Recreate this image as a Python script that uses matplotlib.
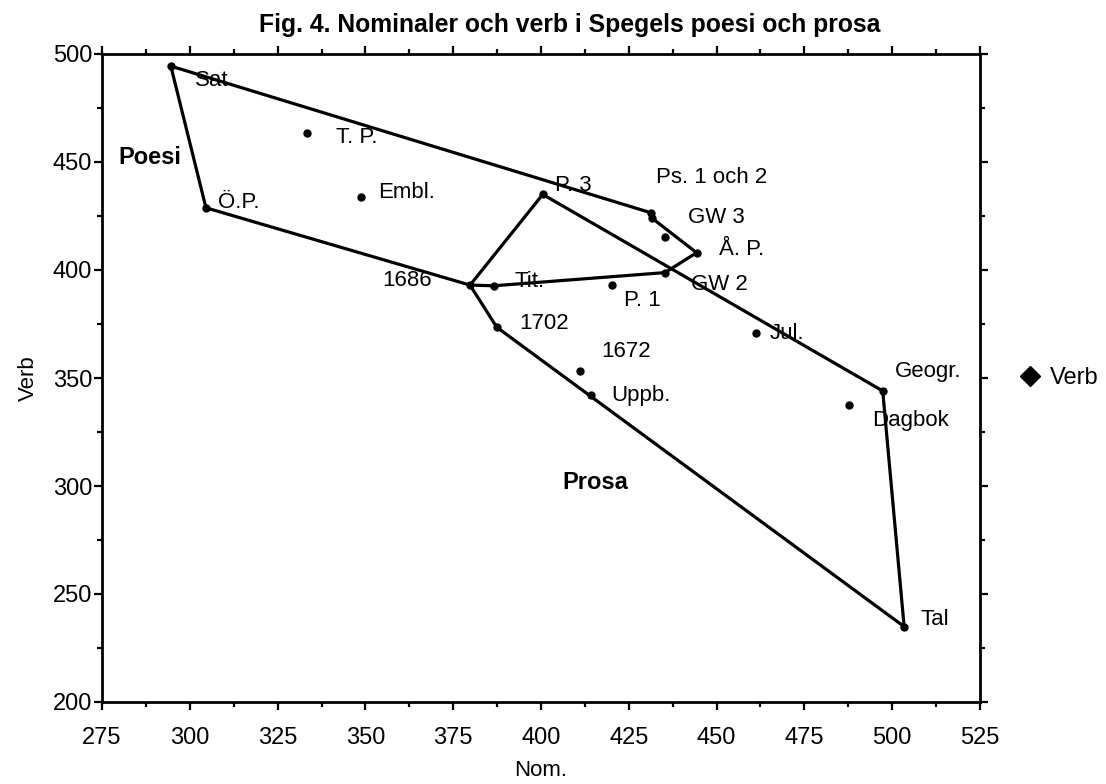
import matplotlib
matplotlib.use("Agg")
import matplotlib.pyplot as plt
from matplotlib.lines import Line2D
from matplotlib.ticker import MultipleLocator

plt.rcParams['font.family'] = ['Liberation Sans', 'DejaVu Sans']

# ---- data ----
names = ["Sat", "T. P.", "Embl.", "Ö.P.", "P. 3", "Ps. 1 och 2", "", "GW 3", "Å. P.",
         "GW 2", "Tit.", "1686", "P. 1", "1702", "1672", "Uppb.", "Jul.", "Geogr.",
         "Dagbok", "Tal"]
nom = [294.6, 333.5, 348.7, 304.6, 400.5, 431.3, 431.7, 435.3, 444.3,
       435.3, 386.6, 379.8, 420.1, 387.4, 411.1, 414.1, 461.1, 497.3,
       487.7, 503.4]
verb = [494.4, 463.3, 434.0, 428.8, 435.0, 426.5, 423.9, 415.1, 408.0,
        398.8, 392.7, 393.0, 393.0, 373.5, 353.4, 342.1, 370.7, 344.0,
        337.3, 234.9]
poesi_hull = ["Sat", "Ps. 1 och 2", "", "Å. P.", "GW 2", "Tit.", "1686", "Ö.P.", "Sat"]
prosa_hull = ["P. 3", "Geogr.", "Tal", "1702", "1686", "P. 3"]
x_ticks = [275, 300, 325, 350, 375, 400, 425, 450, 475, 500, 525]
y_ticks = [200, 250, 300, 350, 400, 450, 500]

# label offsets in pixels (style)
offsets = {"Sat": (24, -14, 'left'), "T. P.": (29, -4, 'left'), "Embl.": (17, 4, 'left'),
           "Ö.P.": (12, 5, 'left'), "P. 3": (12, 9, 'left'), "Ps. 1 och 2": (5, 35, 'left'),
           "GW 3": (23, 20, 'left'), "Å. P.": (22, 3, 'left'), "GW 2": (26, -12, 'left'),
           "Tit.": (21, 4, 'left'), "1686": (-38, 5, 'right'), "P. 1": (12, -15, 'left'),
           "1702": (23, 4, 'left'), "1672": (21, 19, 'left'), "Uppb.": (21, 0, 'left'),
           "Jul.": (14, 0, 'left'), "Geogr.": (12, 19, 'left'), "Dagbok": (23, -15, 'left'),
           "Tal": (16, 7, 'left')}

fig = plt.figure(figsize=(11.06, 7.84), dpi=100)
ax = fig.add_axes([102/1106, 1-702/784, 878/1106, 648/784])

idx = {n: i for i, n in enumerate(names)}
for hull in (poesi_hull, prosa_hull):
    ax.plot([nom[idx[n]] for n in hull], [verb[idx[n]] for n in hull],
            color='black', lw=2.3, solid_joinstyle='miter', zorder=2)
ax.plot(nom, verb, 'o', color='black', ms=5, zorder=3)

for n, x, y in zip(names, nom, verb):
    if not n:
        continue
    dx, dy, ha = offsets[n]
    ax.annotate(n, (x, y), xytext=(dx, dy), textcoords='offset pixels',
                ha=ha, va='center', fontsize=16, color='black')

ax.text(279.6, 452.3, "Poesi", fontsize=17, fontweight='bold', ha='left', va='center')
ax.text(415.5, 301.4, "Prosa", fontsize=17, fontweight='bold', ha='center', va='center')

ax.set_xlim(x_ticks[0], x_ticks[-1])
ax.set_ylim(y_ticks[0], y_ticks[-1])
ax.set_xticks(x_ticks)
ax.set_yticks(y_ticks)
ax.xaxis.set_minor_locator(MultipleLocator(12.5))
ax.yaxis.set_minor_locator(MultipleLocator(25))
ax.tick_params(which='both', direction='out', top=True, right=True, width=1.6, colors='black')
ax.tick_params(which='major', length=6)
ax.tick_params(which='minor', length=3.5)
ax.tick_params(axis='x', which='major', pad=12, labelsize=17)
ax.tick_params(axis='y', which='major', pad=1, labelsize=17)
for s in ax.spines.values():
    s.set_linewidth(2)

ax.set_xlabel("Nom.", fontsize=16, labelpad=8)
ax.set_ylabel("Verb", fontsize=16, labelpad=10)
ax.set_title("Fig. 4. Nominaler och verb i Spegels poesi och prosa",
             fontsize=17.8, fontweight='bold', pad=16, x=0.533)

handle = Line2D([], [], marker='D', color='black', ls='none', ms=10)
ax.legend([handle], ["Verb"], loc='center left', bbox_to_anchor=(1.034, 0.5),
          frameon=False, fontsize=17, handlelength=0.9, handletextpad=0.4,
          borderaxespad=0.0)

fig.savefig("out.png", dpi=100)
